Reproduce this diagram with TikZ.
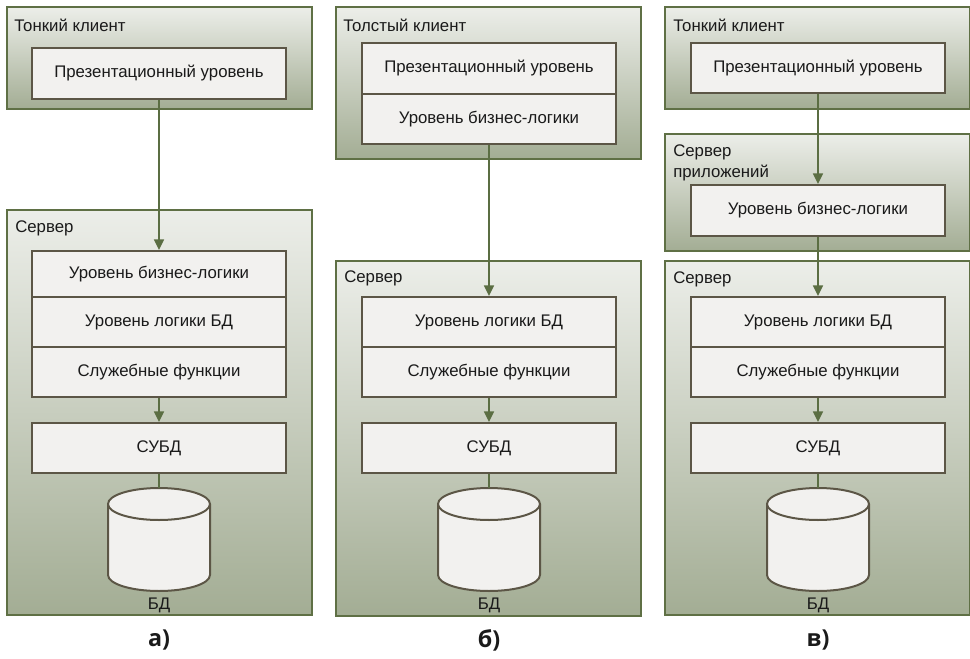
\documentclass[tikz,border=0pt]{standalone}
\usepackage{fontspec}
\setmainfont{Liberation Sans}
\newfontfamily\lblfont{Open Sans}
\usetikzlibrary{arrows.meta}
\definecolor{outerc}{HTML}{5F7045}
\definecolor{innerc}{HTML}{5C5646}
\definecolor{innerf}{HTML}{F2F1EF}
\definecolor{arrc}{HTML}{5B6E43}
\definecolor{gtop}{HTML}{ECEEE9}
\definecolor{gbot}{HTML}{A3AD94}
\definecolor{txt}{HTML}{1A1A1A}
\newcommand{\drawdb}[2]{%
  \filldraw[dbcyl] (#1-51,504) -- (#1-51,575)
    arc[start angle=180,end angle=360,x radius=38.25pt,y radius=12pt]
    -- (#1+51,504)
    arc[start angle=0,end angle=180,x radius=38.25pt,y radius=12pt] -- cycle;
  \draw[dbcyl] (#1-51,504)
    arc[start angle=180,end angle=360,x radius=38.25pt,y radius=12pt];
  \coordinate (#2) at (#1,488);
}
\begin{document}
\begin{tikzpicture}[x=0.75pt,y=-0.75pt,
  font=\fontsize{12.6}{15}\selectfont, text=txt,
  outerbox/.style={rectangle, draw=outerc, line width=1.5pt, top color=gtop,
    bottom color=gbot, minimum width=228.75pt, inner sep=0},
  innerbox/.style={rectangle, draw=innerc, line width=1.5pt, fill=innerf,
    minimum width=190.5pt, inner sep=0},
  ttl/.style={anchor=west, inner sep=0},
  conn/.style={draw=arrc, line width=1.2pt},
  arr/.style={conn, -{Triangle[length=8pt,width=7.5pt]}},
  dbcyl/.style={draw=innerc, line width=1.5pt, fill=innerf},
  sublbl/.style={font=\lblfont\bfseries\fontsize{17.5}{20}\selectfont, text=txt}
]
\useasboundingbox (0,0) rectangle (970,659);

% ---------------- column a ----------------
\node[outerbox, minimum height=76.5pt] (clientA) at (159.5,58) {};
\node[ttl] (lclientA) at (14,25) {Тонкий клиент};
\node[innerbox, minimum height=38.25pt] (presA) at (159,73.5) {Презентационный уровень};

\node[outerbox, minimum height=303.75pt] (serverA) at (159.5,412.5) {};
\node[ttl] (lserverA) at (15,228) {Сервер};
\node[innerbox, minimum height=34.5pt] (bizA) at (159,274) {Уровень бизнес-логики};
\node[innerbox, minimum height=37.5pt] (dblA) at (159,322) {Уровень логики БД};
\node[innerbox, minimum height=37.5pt] (svcA) at (159,372) {Служебные функции};
\node[innerbox, minimum height=37.5pt] (subdA) at (159,448) {СУБД};
\drawdb{159}{dbA}
\node[inner sep=0] (ldbA) at (159,605) {БД};
\node[sublbl] (capA) at (159,640) {а)};

\draw[arr] (presA.south) -- (bizA.north);
\draw[arr] (svcA.south) -- (subdA.north);
\draw[conn] (subdA.south) -- (dbA);

% ---------------- column b ----------------
\node[outerbox, minimum height=114pt] (clientB) at (488.5,83) {};
\node[ttl] (lclientB) at (343,25) {Толстый клиент};
\node[innerbox, minimum height=38.25pt] (presB) at (489,68.5) {Презентационный уровень};
\node[innerbox, minimum height=37.5pt] (bizB) at (489,119) {Уровень бизнес-логики};

\node[outerbox, minimum height=266.25pt] (serverB) at (488.5,438.5) {};
\node[ttl] (lserverB) at (344,278) {Сервер};
\node[innerbox, minimum height=37.5pt] (dblB) at (489,322) {Уровень логики БД};
\node[innerbox, minimum height=37.5pt] (svcB) at (489,372) {Служебные функции};
\node[innerbox, minimum height=37.5pt] (subdB) at (489,448) {СУБД};
\drawdb{489}{dbB}
\node[inner sep=0] (ldbB) at (489,605) {БД};
\node[sublbl] (capB) at (489,640) {б)};

\draw[arr] (bizB.south) -- (dblB.north);
\draw[arr] (svcB.south) -- (subdB.north);
\draw[conn] (subdB.south) -- (dbB);

% ---------------- column c ----------------
\node[outerbox, minimum height=76.5pt] (clientC) at (817.5,58) {};
\node[ttl] (lclientC) at (673,25) {Тонкий клиент};
\node[innerbox, minimum height=37.5pt] (presC) at (818,68) {Презентационный уровень};

\node[outerbox, minimum height=87.75pt] (appC) at (817.5,192.5) {};
\node[ttl] (lappC1) at (673,152) {Сервер};
\node[ttl] (lappC2) at (673,173) {приложений};
\node[innerbox, minimum height=38.25pt] (bizC) at (818,210.5) {Уровень бизнес-логики};

\node[outerbox, minimum height=265.5pt] (serverC) at (817.5,438) {};
\node[ttl] (lserverC) at (673,279) {Сервер};
\node[innerbox, minimum height=37.5pt] (dblC) at (818,322) {Уровень логики БД};
\node[innerbox, minimum height=37.5pt] (svcC) at (818,372) {Служебные функции};
\node[innerbox, minimum height=37.5pt] (subdC) at (818,448) {СУБД};
\drawdb{818}{dbC}
\node[inner sep=0] (ldbC) at (818,605) {БД};
\node[sublbl] (capC) at (818,640) {в)};

\draw[arr] (presC.south) -- (bizC.north);
\draw[arr] (bizC.south) -- (dblC.north);
\draw[arr] (svcC.south) -- (subdC.north);
\draw[conn] (subdC.south) -- (dbC);
\end{tikzpicture}
\end{document}
